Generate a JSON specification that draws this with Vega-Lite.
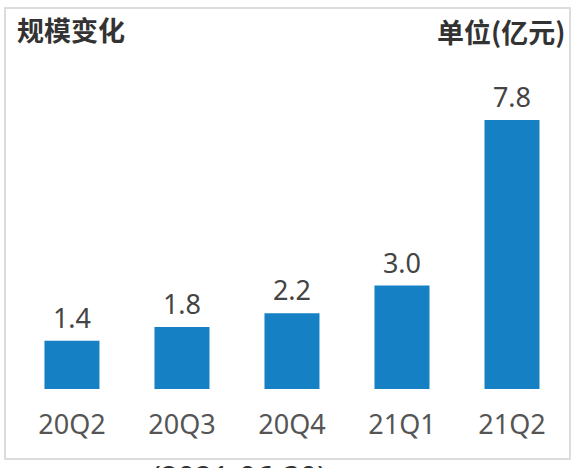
{
  "$schema": "https://vega.github.io/schema/vega-lite/v6.json",
  "autosize": "none",
  "padding": {"left": 5, "top": 8, "right": 2, "bottom": 9},
  "width": 565,
  "height": 451,
  "background": "white",
  "config": {
    "view": {"stroke": "#dcdcdc", "strokeWidth": 2},
    "font": "Noto Sans"
  },
  "title": {
    "text": "规模变化",
    "anchor": "start",
    "offset": -34,
    "dx": 12,
    "dy": 26,
    "baseline": "alphabetic",
    "font": "Noto Sans CJK SC",
    "fontSize": 27,
    "fontWeight": "bold",
    "color": "#333333"
  },
  "data": {
    "values": [
      {"quarter": "20Q2", "value": 1.4},
      {"quarter": "20Q3", "value": 1.8},
      {"quarter": "20Q4", "value": 2.2},
      {"quarter": "21Q1", "value": 3.0},
      {"quarter": "21Q2", "value": 7.8}
    ]
  },
  "encoding": {
    "x": {
      "field": "quarter",
      "type": "nominal",
      "sort": null,
      "scale": {"paddingInner": 0.5, "paddingOuter": 0.318, "align": 0.564},
      "axis": null
    }
  },
  "layer": [
    {
      "mark": {"type": "bar", "color": "#1580c4"},
      "encoding": {
        "y": {
          "field": "value",
          "type": "quantitative",
          "scale": {"domain": [-2.03, 11.05], "nice": false, "zero": false},
          "axis": {
            "orient": "right",
            "title": "单位(亿元)",
            "titleAngle": 0,
            "titleAlign": "right",
            "titleBaseline": "alphabetic",
            "titleX": -5,
            "titleY": 34,
            "titleFont": "Noto Sans CJK SC",
            "titleFontSize": 27,
            "titleFontWeight": "bold",
            "titleColor": "#333333",
            "labels": false,
            "ticks": false,
            "domain": false,
            "grid": false
          }
        }
      }
    },
    {
      "mark": {"type": "text", "baseline": "alphabetic", "dy": -13, "fontSize": 27, "color": "#444444"},
      "encoding": {
        "y": {"field": "value", "type": "quantitative"},
        "text": {"field": "value", "type": "quantitative", "format": ".1f"}
      }
    },
    {
      "mark": {"type": "text", "baseline": "alphabetic", "dy": 45, "fontSize": 27, "color": "#555555"},
      "encoding": {
        "y": {"datum": 0},
        "text": {"field": "quarter", "type": "nominal"}
      }
    },
    {
      "data": {"values": [{"q": "20Q3", "note": "(2021-06-30)"}]},
      "mark": {"type": "text", "baseline": "top", "dx": 57, "dy": 5, "fontSize": 30, "color": "#333333"},
      "encoding": {
        "x": {"field": "q", "type": "nominal"},
        "y": {"datum": -2.03},
        "text": {"field": "note", "type": "nominal"}
      }
    }
  ]
}
